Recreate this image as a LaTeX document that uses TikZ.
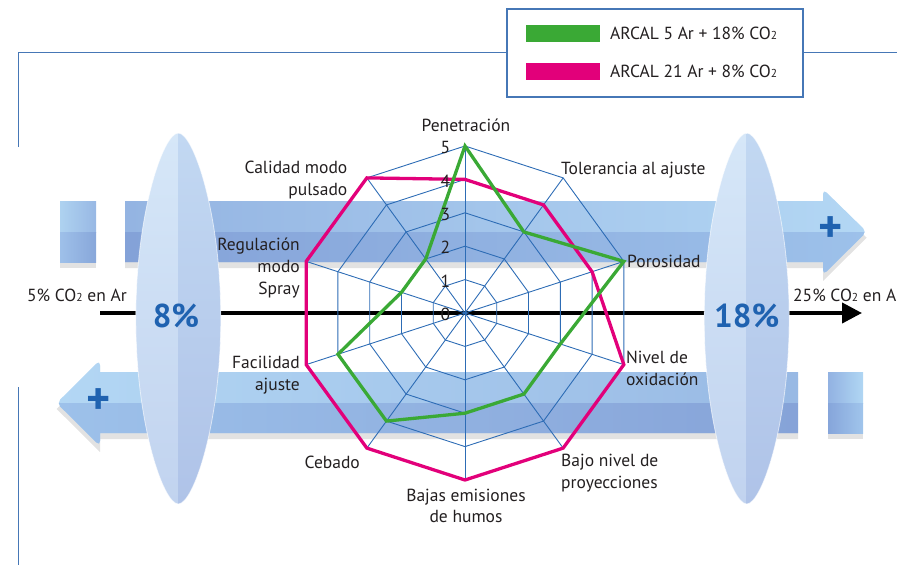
\documentclass[tikz,border=0pt]{standalone}
\usepackage{fontspec}
\setmainfont{PT Sans}
\usetikzlibrary{calc,arrows.meta}
\definecolor{gridblue}{HTML}{2D6CB5}
\definecolor{framecol}{HTML}{4677B6}
\definecolor{greenC}{HTML}{3AA935}
\definecolor{magentaC}{HTML}{E2007A}
\definecolor{textcol}{HTML}{231F20}
\definecolor{pctblue}{HTML}{1F62B0}
\definecolor{shadowgray}{HTML}{E2E2E2}
\definecolor{upTopL}{HTML}{94B4E2}
\definecolor{upTopR}{HTML}{B3D7F4}
\definecolor{upBotL}{HTML}{84A2D8}
\definecolor{upBotR}{HTML}{9DC1EA}
\definecolor{sqUpTopL}{HTML}{AED2F0}
\definecolor{sqUpTopR}{HTML}{98B8E4}
\definecolor{sqUpBotL}{HTML}{9EC0E9}
\definecolor{sqUpBotR}{HTML}{88A7DA}
\definecolor{loTopL}{HTML}{B3D7F4}
\definecolor{loTopR}{HTML}{98B9E4}
\definecolor{loBotL}{HTML}{9DC1EA}
\definecolor{loBotR}{HTML}{86A3D8}
\definecolor{sqLoTopL}{HTML}{92B2E2}
\definecolor{sqLoTopR}{HTML}{B0D6F3}
\definecolor{sqLoBotL}{HTML}{86A5DA}
\definecolor{sqLoBotR}{HTML}{A0C5EC}
\definecolor{lensLT}{HTML}{D6E7F8}
\definecolor{lensLB}{HTML}{C1D3EF}
\definecolor{lensRT}{HTML}{C2D8F2}
\definecolor{lensRB}{HTML}{AFC3E8}
\newcommand\lblfont{\fontsize{17.5}{21.7}\selectfont}
\newcommand\subtwo{{\fontsize{11.5}{11.5}\selectfont 2}}
\tikzset{
  gridline/.style={draw=gridblue, line width=0.9pt, line join=miter},
  serie/.style={line width=3.3pt, line join=miter},
  lab/.style={font=\lblfont, text=textcol, inner sep=0pt},
  framel/.style={draw=framecol, line width=1.3pt},
  pct/.style={font=\fontsize{33}{33}\selectfont\bfseries, text=pctblue, inner sep=0pt},
  plus/.style={font=\fontsize{46}{46}\selectfont\bfseries, text=pctblue, inner sep=0pt},
}
\begin{document}
\begin{tikzpicture}[x=1pt,y=-1pt]
\useasboundingbox (0,0) rectangle (897,565);
% frame lines
\coordinate (fA) at (18.5,52.5);
\coordinate (fB) at (507,52.5);
\coordinate (fC) at (803,52.5);
\coordinate (fD) at (897,52.5);
\coordinate (fE) at (18.5,147);
\coordinate (fF) at (18.5,387);
\coordinate (fG) at (18.5,565);
\draw[framel] (fE) -- (fA) -- (fB);
\draw[framel] (fC) -- (fD);
\draw[framel] (fF) -- (fG);
% legend
\draw[draw=framecol, line width=1.2pt, fill=white] (507,9) rectangle (803,97);
\fill[greenC] (526,25) rectangle (600,42);
\fill[magentaC] (526,63) rectangle (600,80);
\node[lab, anchor=west] (leg1) at (610,33.5) {ARCAL 5 Ar + 18\% CO\subtwo};
\node[lab, anchor=west] (leg2) at (610,71.5) {ARCAL 21 Ar + 8\% CO\subtwo};
% ---- upper band (to the right)
\fill[shadowgray] (60,207) rectangle (96,268);
\fill[shadowgray] (125,207) -- (823,207) -- (823,195) -- (866.7,237.7) -- (823,281) -- (823,268) -- (125,268) -- cycle;
\shade[left color=sqUpTopL, right color=sqUpTopR] (60,201) rectangle (96,232);
\shade[left color=sqUpBotL, right color=sqUpBotR] (60,232) rectangle (96,262);
\shade[left color=upTopL, right color=upTopR] (125,201) -- (823,201) [rounded corners=5pt] -- (823,189) -- (866.7,231.7) -- (823,275) [sharp corners] -- (823,262) -- (125,262) -- cycle;
\begin{scope}
\clip (125,201) -- (823,201) [rounded corners=5pt] -- (823,189) -- (866.7,231.7) -- (823,275) [sharp corners] -- (823,262) -- (125,262) -- cycle;
\shade[left color=upBotL, right color=upBotR] (125,232) rectangle (867,280);
\end{scope}
\node[plus] (plusR) at (830.7,230) {+};
% ---- lower band (to the left)
\fill[shadowgray] (828,378) rectangle (863,439);
\fill[shadowgray] (798,378) -- (100,378) -- (100,366) -- (56.7,409) -- (100,452) -- (100,439) -- (798,439) -- cycle;
\shade[left color=sqLoTopL, right color=sqLoTopR] (828,372) rectangle (863,403);
\shade[left color=sqLoBotL, right color=sqLoBotR] (828,403) rectangle (863,433);
\shade[left color=loTopL, right color=loTopR] (798,372) -- (100,372) [rounded corners=5pt] -- (100,360) -- (56.7,403) -- (100,446) [sharp corners] -- (100,433) -- (798,433) -- cycle;
\begin{scope}
\clip (798,372) -- (100,372) [rounded corners=5pt] -- (100,360) -- (56.7,403) -- (100,446) [sharp corners] -- (100,433) -- (798,433) -- cycle;
\shade[left color=loBotL, right color=loBotR] (56,403) rectangle (798,450);
\end{scope}
\node[plus] (plusL) at (99,402) {+};
% ---- black axis
\coordinate (axL) at (100,313);
\coordinate (axR) at (862,313);
\draw[line width=4pt, -{Triangle[length=20pt,width=20pt]}] (axL) -- (axR);
% ---- lenses
\foreach \cx in {178.3,746.7}{
  \shade[top color=lensLT, bottom color=lensLB] (\cx,133) .. controls ({\cx-15},133) and ({\cx-42.5},213) .. ({\cx-42.5},318.5) .. controls ({\cx-42.5},424) and ({\cx-15},504) .. (\cx,504) -- cycle;
  \shade[top color=lensRT, bottom color=lensRB] (\cx,133) .. controls ({\cx+15},133) and ({\cx+42.5},213) .. ({\cx+42.5},318.5) .. controls ({\cx+42.5},424) and ({\cx+15},504) .. (\cx,504) -- cycle;
  \draw[white, opacity=0.6, line width=0.8pt] (\cx,133) .. controls ({\cx-15},133) and ({\cx-42.5},213) .. ({\cx-42.5},318.5) .. controls ({\cx-42.5},424) and ({\cx-15},504) .. (\cx,504) .. controls ({\cx+15},504) and ({\cx+42.5},424) .. ({\cx+42.5},318.5) .. controls ({\cx+42.5},213) and ({\cx+15},133) .. (\cx,133);
}
\node[pct] (p8) at (176,316) {8\%};
\node[pct] (p18) at (746.7,316) {18\%};
\node[lab, anchor=west] (lowco) at (27,295) {5\% CO\subtwo{} en Ar};
\node[lab, anchor=west] (highco) at (793,295) {25\% CO\subtwo{} en Ar};
% ---- radar grid
\coordinate (C) at (465,313);
\foreach \i in {0,...,9}{
  \foreach \r in {1,...,5}{
    \coordinate (k\r-\i) at ($(C)+({90-36*\i}:{\r*33.4pt})$);
  }
}
\foreach \i in {0,...,9}{ \draw[gridline] (C) -- (k5-\i); }
\foreach \r in {1,...,5}{
  \draw[gridline] (k\r-0) -- (k\r-1) -- (k\r-2) -- (k\r-3) -- (k\r-4) -- (k\r-5) -- (k\r-6) -- (k\r-7) -- (k\r-8) -- (k\r-9) -- cycle;
}
% ---- data
\foreach \v [count=\i from 0] in {4,4,4,5,5,5,5,5,5,5}{
  \coordinate (m\i) at ($(C)+({90-36*\i}:{\v*33.4pt})$);
}
\foreach \v [count=\i from 0] in {5,3,5,3,3,3,4,4,2,2}{
  \coordinate (g\i) at ($(C)+({90-36*\i}:{\v*33.4pt})$);
}
\draw[serie, draw=magentaC] (m0) -- (m1) -- (m2) -- (m3) -- (m4) -- (m5) -- (m6) -- (m7) -- (m8) -- (m9) -- cycle;
\draw[serie, draw=greenC] (g0) -- (g1) -- (g2) -- (g3) -- (g4) -- (g5) -- (g6) -- (g7) -- (g8) -- (g9) -- cycle;
% ---- scale numbers
\foreach \r in {0,...,5}{
  \node[lab] (n\r) at (445.5,{313-33.4*\r+1.5}) {\r};
}
% ---- axis labels
\node[lab] (lPen) at (466,125) {Penetración};
\node[lab, anchor=west] (lTol) at (561,170) {Tolerancia al ajuste};
\node[lab, anchor=west] (lPor) at (627,261) {Porosidad};
\node[lab, anchor=west, align=left] (lOxi) at (626,368.5) {Nivel de\\oxidación};
\node[lab, anchor=west, align=left] (lPro) at (561,473) {Bajo nivel de\\proyecciones};
\node[lab, align=center] (lHum) at (466,506) {Bajas emisiones\\de humos};
\node[lab, anchor=east] (lCeb) at (360,462) {Cebado};
\node[lab, anchor=east, align=right] (lFac) at (300,375) {Facilidad\\ajuste};
\node[lab, anchor=east, align=right] (lSpr) at (300,268) {Regulación\\modo\\Spray};
\node[lab, anchor=east, align=right] (lPul) at (347.5,180) {Calidad modo\\pulsado};
\end{tikzpicture}
\end{document}
